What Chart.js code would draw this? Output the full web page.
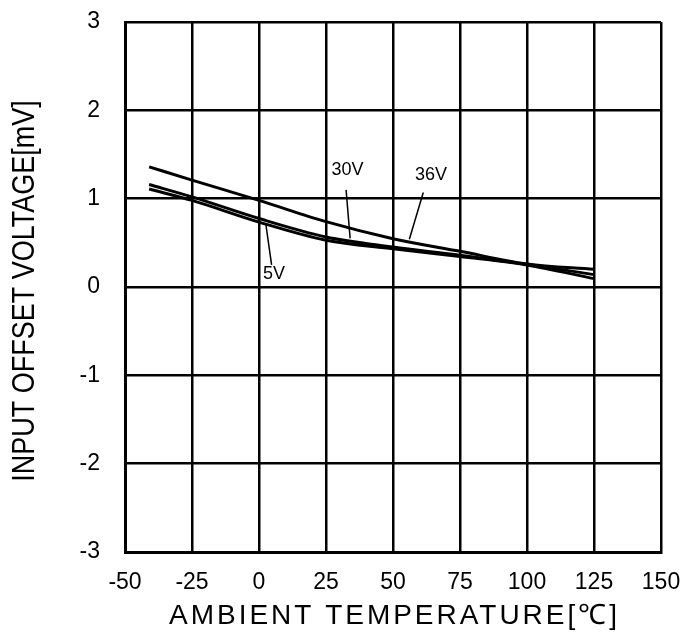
<!DOCTYPE html>
<html>
<head>
<meta charset="utf-8">
<script src="https://cdn.jsdelivr.net/npm/chart.js@4/dist/chart.umd.min.js"></script>
<style>
  html, body { margin: 0; padding: 0; background: #fff; }
  #wrap { width: 695px; height: 636px; }
</style>
</head>
<body>
<div id="wrap"><canvas id="myChart"></canvas></div>
<script>
// Werte
const temps = [-41, -25, 0, 25, 50, 75, 100, 125];
const v36 = [1.36, 1.21, 0.98, 0.74, 0.547, 0.404, 0.26, 0.20];
const v30 = [1.16, 1.02, 0.775, 0.566, 0.452, 0.36, 0.257, 0.14];
const v5 = [1.11, 0.98, 0.735, 0.53, 0.434, 0.345, 0.25, 0.095];
const xTicks = [-50, -25, 0, 25, 50, 75, 100, 125, 150];
const yTicks = [-3, -2, -1, 0, 1, 2, 3];

const xTitle = 'AMBIENT TEMPERATURE[℃]';
const yTitle = 'INPUT OFFSET VOLTAGE[mV]';

// Beschriftungen an den Kurven (Text + Hinweislinie, in Datenkoordinaten)
const curveLabels = [
  { text: '30V', at: [33.0, 1.32], from: [32.5, 1.10], to: [34.0, 0.55] },
  { text: '36V', at: [64.2, 1.27], from: [61.3, 1.07], to: [56.1, 0.54] },
  { text: '5V', at: [5.6, 0.15], from: [4.7, 0.25], to: [2.6, 0.70] }
];

const FONT = '"Liberation Sans", Arial, sans-serif';

function toPoints(ys) {
  return temps.map((t, i) => ({ x: t, y: ys[i] }));
}

function series(label, ys) {
  return {
    label: label,
    data: toPoints(ys),
    borderColor: '#000',
    borderWidth: 3,
    pointRadius: 0,
    fill: false,
    cubicInterpolationMode: 'monotone'
  };
}

const extras = {
  id: 'extras',
  afterDatasetsDraw(chart) {
    const ctx = chart.ctx;
    const xs = chart.scales.x, ys = chart.scales.y;
    ctx.save();
    ctx.fillStyle = '#000';
    ctx.strokeStyle = '#000';
    ctx.lineWidth = 1.5;
    ctx.font = '18px ' + FONT;
    ctx.textAlign = 'center';
    ctx.textBaseline = 'middle';
    curveLabels.forEach(l => {
      ctx.beginPath();
      ctx.moveTo(xs.getPixelForValue(l.from[0]), ys.getPixelForValue(l.from[1]));
      ctx.lineTo(xs.getPixelForValue(l.to[0]), ys.getPixelForValue(l.to[1]));
      ctx.stroke();
      ctx.fillText(l.text, xs.getPixelForValue(l.at[0]), ys.getPixelForValue(l.at[1]));
    });
    ctx.restore();
  },
  afterDraw(chart) {
    const ctx = chart.ctx;
    const a = chart.chartArea;
    ctx.save();
    ctx.fillStyle = '#000';
    ctx.textAlign = 'center';
    ctx.textBaseline = 'middle';
    ctx.font = '28px ' + FONT;
    // x-Titel etwas gesperrt
    const w = ctx.measureText(xTitle).width;
    const sp = (448 - w) / (xTitle.length - 1);
    ctx.letterSpacing = sp + 'px';
    ctx.fillText(xTitle, (a.left + a.right) / 2 + sp / 2, 616);
    ctx.letterSpacing = '0px';
    // y-Titel
    ctx.font = '27px ' + FONT;
    ctx.translate(25, (a.top + a.bottom) / 2 + 4);
    ctx.rotate(-Math.PI / 2);
    ctx.scale(1, 1.15);
    ctx.fillText(yTitle, 0, 0);
    ctx.restore();
  }
};

const ctx = document.getElementById('myChart').getContext('2d');
const myChart = new Chart(ctx, {
  type: 'line',
  data: {
    datasets: [series('36V', v36), series('30V', v30), series('5V', v5)]
  },
  options: {
    responsive: true,
    maintainAspectRatio: false,
    animation: false,
    layout: { padding: { top: 22, right: 34, left: 0, bottom: 0 } },
    plugins: {
      legend: { display: false },
      tooltip: { enabled: false }
    },
    scales: {
      x: {
        type: 'linear',
        min: -50,
        max: 150,
        afterBuildTicks: s => { s.ticks = xTicks.map(v => ({ value: v })); },
        afterFit: s => { s.height = 84; s.paddingLeft = 0; s.paddingRight = 0; },
        grid: { color: '#000', lineWidth: 2.5, drawTicks: false },
        border: { color: '#000', width: 3 },
        ticks: { color: '#000', font: { family: FONT, size: 23 }, padding: 17, maxRotation: 0 }
      },
      y: {
        type: 'linear',
        min: -3,
        max: 3,
        afterBuildTicks: s => { s.ticks = yTicks.map(v => ({ value: v })); },
        afterFit: s => { s.width = 125; s.paddingTop = 0; s.paddingBottom = 0; },
        grid: { color: '#000', lineWidth: 2.5, drawTicks: false },
        border: { color: '#000', width: 3 },
        ticks: { color: '#000', font: { family: FONT, size: 23 }, padding: 25 }
      }
    }
  },
  plugins: [extras]
});
</script>
</body>
</html>
